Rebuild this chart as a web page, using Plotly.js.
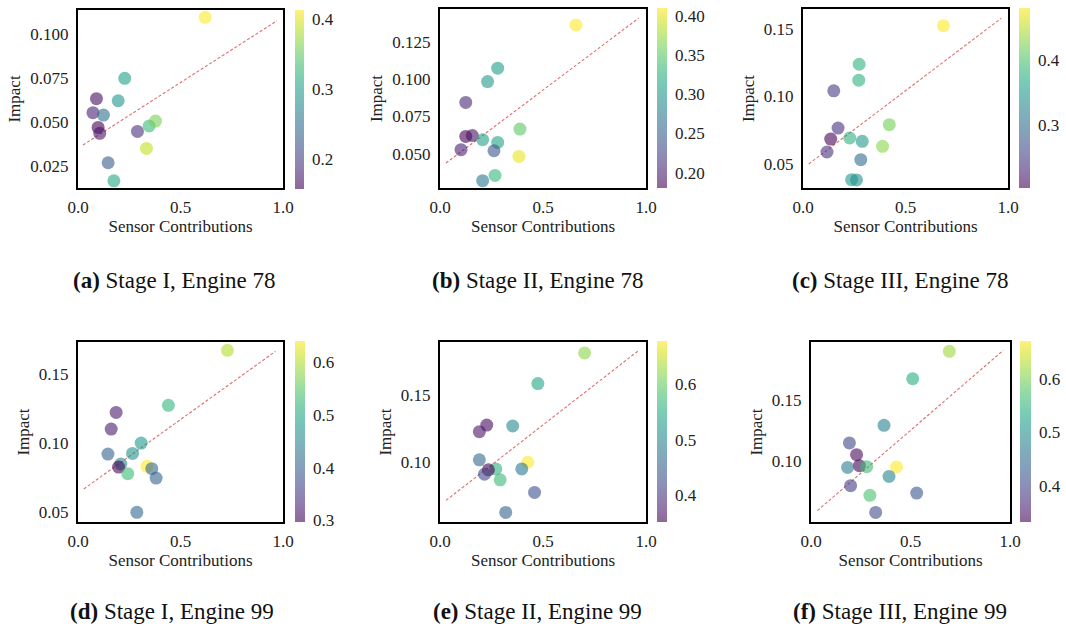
<!DOCTYPE html>
<html>
<head>
<meta charset="utf-8">
<script src="https://cdn.plot.ly/plotly-3.0.1.min.js"></script>
<style>
  html, body { margin: 0; padding: 0; background: #fff; }
  #chart { width: 1066px; height: 627px; }
</style>
</head>
<body>
<div id="chart"></div>
<script>
// (a) Stage I, Engine 78
var xA = [0.620, 0.228, 0.090, 0.196, 0.073, 0.124, 0.098, 0.106, 0.290, 0.347, 0.378, 0.334, 0.147, 0.175];
var yA = [0.1097, 0.0749, 0.0633, 0.0621, 0.0553, 0.0539, 0.0469, 0.0435, 0.0446, 0.0477, 0.0505, 0.0349, 0.0267, 0.0164];
var cA = [0.414, 0.300, 0.165, 0.290, 0.180, 0.250, 0.157, 0.170, 0.190, 0.330, 0.360, 0.390, 0.230, 0.310];
var trendXA = [0.024, 0.971];
var trendYA = [0.0368, 0.1078];

// (b) Stage II, Engine 78
var xB = [0.660, 0.280, 0.231, 0.125, 0.388, 0.125, 0.157, 0.207, 0.280, 0.102, 0.262, 0.383, 0.267, 0.207];
var yB = [0.1361, 0.1072, 0.0983, 0.0843, 0.0665, 0.0616, 0.0622, 0.0594, 0.0576, 0.0527, 0.0520, 0.0482, 0.0355, 0.0320];
var cB = [0.409, 0.305, 0.300, 0.205, 0.350, 0.180, 0.190, 0.310, 0.310, 0.200, 0.240, 0.400, 0.330, 0.270];
var trendXB = [0.029, 0.964];
var trendYB = [0.0438, 0.1406];

// (c) Stage III, Engine 78
var xC = [0.685, 0.274, 0.272, 0.150, 0.171, 0.421, 0.135, 0.228, 0.289, 0.388, 0.117, 0.282, 0.237, 0.261];
var yC = [0.1527, 0.1240, 0.1121, 0.1042, 0.0765, 0.0790, 0.0683, 0.0691, 0.0666, 0.0629, 0.0587, 0.0530, 0.0381, 0.0379];
var cC = [0.480, 0.380, 0.380, 0.250, 0.240, 0.420, 0.203, 0.380, 0.350, 0.430, 0.240, 0.300, 0.350, 0.340];
var trendXC = [0.028, 0.967];
var trendYC = [0.0498, 0.1582];

// (d) Stage I, Engine 99
var xD = [0.729, 0.441, 0.186, 0.162, 0.308, 0.266, 0.146, 0.209, 0.198, 0.336, 0.360, 0.243, 0.381, 0.287];
var yD = [0.1672, 0.1273, 0.1222, 0.1101, 0.1000, 0.0925, 0.0920, 0.0848, 0.0826, 0.0831, 0.0814, 0.0778, 0.0746, 0.0498];
var cD = [0.600, 0.520, 0.320, 0.320, 0.480, 0.470, 0.400, 0.450, 0.2955, 0.640, 0.410, 0.530, 0.400, 0.410];
var trendXD = [0.028, 0.963];
var trendYD = [0.0667, 0.1664];

// (e) Stage II, Engine 99
var xE = [0.702, 0.475, 0.353, 0.227, 0.191, 0.191, 0.426, 0.271, 0.235, 0.216, 0.397, 0.292, 0.459, 0.319];
var yE = [0.1813, 0.1586, 0.1271, 0.1278, 0.1229, 0.1020, 0.1002, 0.0953, 0.0946, 0.0914, 0.0953, 0.0872, 0.0778, 0.0630];
var cE = [0.620, 0.540, 0.500, 0.360, 0.370, 0.460, 0.678, 0.560, 0.350, 0.420, 0.480, 0.570, 0.430, 0.450];
var trendXE = [0.029, 0.966];
var trendYE = [0.0719, 0.1833];

// (f) Stage III, Engine 99
var xF = [0.695, 0.511, 0.367, 0.193, 0.229, 0.243, 0.184, 0.280, 0.430, 0.392, 0.199, 0.531, 0.296, 0.325];
var yF = [0.1892, 0.1670, 0.1292, 0.1149, 0.1054, 0.0965, 0.0951, 0.0957, 0.0954, 0.0878, 0.0803, 0.0743, 0.0724, 0.0586];
var cF = [0.620, 0.540, 0.480, 0.400, 0.340, 0.331, 0.470, 0.560, 0.671, 0.480, 0.390, 0.420, 0.570, 0.410];
var trendXF = [0.032, 0.966];
var trendYF = [0.0600, 0.1900];

var captions = ['(a)', '(b)', '(c)', '(d)', '(e)', '(f)'];
var captionText = ['Stage I, Engine 78', 'Stage II, Engine 78', 'Stage III, Engine 78',
                   'Stage I, Engine 99', 'Stage II, Engine 99', 'Stage III, Engine 99'];

// viridis, faded like alpha=0.6 in matplotlib
var VIR = ['#440154','#48186a','#472d7b','#424086','#3b528b','#33638d','#2c728e','#26828e','#21918c',
           '#1fa088','#28ae80','#3fbc73','#5ec962','#84d44b','#addc30','#d8e219','#fde725'];
function fadedScale(alpha) {
    var out = [];
    for (var i = 0; i < VIR.length; i++) {
        var h = VIR[i];
        var r = parseInt(h.substr(1, 2), 16), g = parseInt(h.substr(3, 2), 16), b = parseInt(h.substr(5, 2), 16);
        out.push([i / (VIR.length - 1), 'rgba(' + r + ',' + g + ',' + b + ',' + alpha + ')']);
    }
    return out;
}
var scale = fadedScale(0.6);

var W = 1066, H = 627;
var SERIF = 'Liberation Serif, Times New Roman, serif';
var TICK = {family: SERIF, size: 17, color: '#222'};

// pixel boxes of each panel: plot frame, colorbar, y range, tick steps
var panels = [
    {x: xA, y: yA, c: cA, tx: trendXA, ty: trendYA, box: [78, 283, 10, 188], cb: [295, 9], yr: [0.0123, 0.1139], yd: 0.025, yf: '.3f', cd: 0.1, cf: '.1f', cap: [174, 280]},
    {x: xB, y: yB, c: cB, tx: trendXB, ty: trendYB, box: [440, 646, 9, 188], cb: [657, 10], yr: [0.0271, 0.1468], yd: 0.025, yf: '.3f', cd: 0.05, cf: '.2f', cap: [537, 280]},
    {x: xC, y: yC, c: cC, tx: trendXC, ty: trendYC, box: [803, 1008, 9, 188], cb: [1019, 11], yr: [0.0319, 0.1651], yd: 0.05, yf: '.2f', cd: 0.1, cf: '.1f', cap: [900, 280]},
    {x: xD, y: yD, c: cD, tx: trendXD, ty: trendYD, box: [78, 283, 342, 522], cb: [295, 10], yr: [0.0428, 0.1732], yd: 0.05, yf: '.2f', cd: 0.1, cf: '.1f', cap: [172, 611]},
    {x: xE, y: yE, c: cE, tx: trendXE, ty: trendYE, box: [440, 646, 342, 522], cb: [657, 10], yr: [0.0559, 0.1894], yd: 0.05, yf: '.2f', cd: 0.1, cf: '.1f', cap: [537, 611]},
    {x: xF, y: yF, c: cF, tx: trendXF, ty: trendYF, box: [811, 1010, 342, 522], cb: [1020, 11], yr: [0.0508, 0.1968], yd: 0.05, yf: '.2f', cd: 0.1, cf: '.1f', cap: [900, 611]}
];

var data = [];
var layout = {
    width: W, height: H,
    margin: {l: 0, r: 0, t: 0, b: 0},
    paper_bgcolor: '#fff', plot_bgcolor: '#fff',
    showlegend: false,
    font: {family: SERIF, size: 17, color: '#222'},
    annotations: []
};

for (var i = 0; i < panels.length; i++) {
    var p = panels[i];
    var n = i === 0 ? '' : String(i + 1);
    var bx = p.box;
    var yTop = 1 - bx[2] / H, yBot = 1 - bx[3] / H;

    layout['xaxis' + n] = {
        domain: [bx[0] / W, bx[1] / W], anchor: 'y' + n,
        range: [0, 1], tickvals: [0, 0.5, 1], tickformat: '.1f',
        showgrid: false, zeroline: false,
        showline: true, mirror: true, linewidth: 2.2, linecolor: '#000',
        ticks: 'outside', ticklen: 2, tickcolor: 'rgba(0,0,0,0)',
        tickfont: TICK,
        title: {text: 'Sensor Contributions', font: TICK, standoff: 4}
    };
    layout['yaxis' + n] = {
        domain: [yBot, yTop], anchor: 'x' + n,
        range: p.yr, dtick: p.yd, tick0: 0, tickformat: p.yf,
        showgrid: false, zeroline: false,
        showline: true, mirror: true, linewidth: 2.2, linecolor: '#000',
        ticks: 'outside', ticklen: 4, tickcolor: 'rgba(0,0,0,0)',
        tickfont: TICK,
        title: {text: 'Impact', font: TICK, standoff: 5}
    };

    data.push({
        type: 'scatter', mode: 'lines',
        x: p.tx, y: p.ty,
        xaxis: 'x' + n, yaxis: 'y' + n,
        line: {color: 'rgba(214,60,60,0.75)', width: 1.1, dash: '3px,2px'},
        hoverinfo: 'skip'
    });
    data.push({
        type: 'scatter', mode: 'markers',
        x: p.x, y: p.y,
        xaxis: 'x' + n, yaxis: 'y' + n,
        marker: {
            size: 13, color: p.c, colorscale: scale, showscale: true,
            line: {width: 0},
            colorbar: {
                x: p.cb[0] / W, xanchor: 'left', xpad: 0,
                y: (yBot + yTop) / 2, yanchor: 'middle', ypad: 0,
                len: (bx[3] - bx[2] + 1) / H, lenmode: 'fraction',
                thickness: p.cb[1], thicknessmode: 'pixels',
                outlinewidth: 0,
                dtick: p.cd, tick0: 0, tickformat: p.cf,
                ticks: 'outside', ticklen: 5, tickcolor: 'rgba(0,0,0,0)',
                tickfont: TICK
            }
        }
    });

    layout.annotations.push({
        xref: 'paper', yref: 'paper',
        x: p.cap[0] / W, y: 1 - p.cap[1] / H,
        xanchor: 'center', yanchor: 'middle', showarrow: false,
        text: '<b>' + captions[i] + '</b> ' + captionText[i],
        font: {family: SERIF, size: 23, color: '#111'}
    });
}

Plotly.newPlot('chart', data, layout, {displayModeBar: false, staticPlot: true});
</script>
</body>
</html>
